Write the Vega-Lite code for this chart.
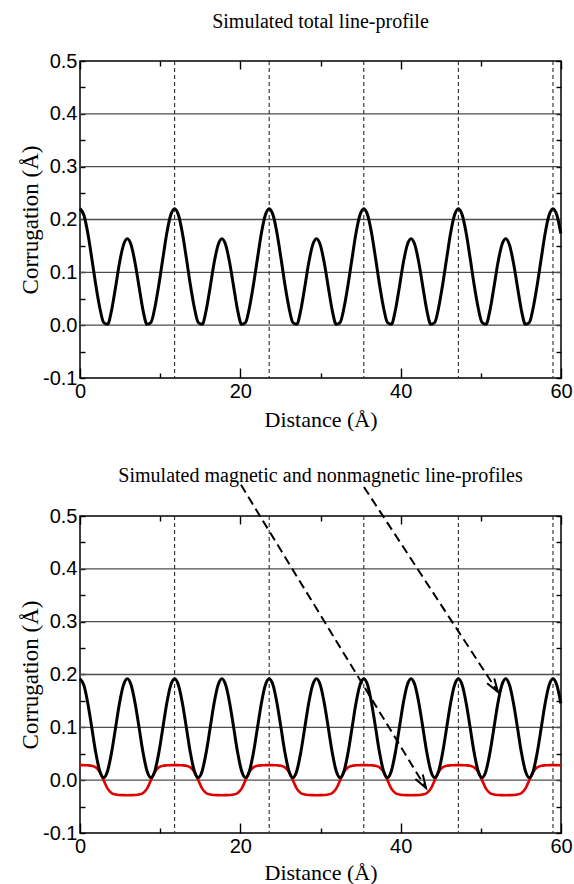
{
  "$schema": "https://vega.github.io/schema/vega-lite/v6.json",
  "background": "white",
  "padding": {"left": 18, "top": 11, "right": 4, "bottom": 0},
  "spacing": 34,
  "config": {
    "view": {"stroke": "black", "strokeWidth": 1.5},
    "title": {"font": "Liberation Serif", "fontSize": 20, "fontWeight": "normal", "color": "black", "baseline": "alphabetic"},
    "axis": {
      "labelFont": "Liberation Sans", "labelFontSize": 20, "labelColor": "black",
      "titleFont": "Liberation Serif", "titleFontWeight": "normal", "titleColor": "black",
      "tickColor": "black", "tickWidth": 1.4, "domain": false, "grid": false
    }
  },
  "datasets": {
    "profile": [
      {"x":0,"total":0.2205,"nonmagnetic":0.192,"magnetic":0.0285},
      {"x":0.49,"total":0.2079,"nonmagnetic":0.1795,"magnetic":0.0284},
      {"x":0.98,"total":0.1734,"nonmagnetic":0.1453,"magnetic":0.0281},
      {"x":1.48,"total":0.1256,"nonmagnetic":0.0985,"magnetic":0.0271},
      {"x":1.97,"total":0.0759,"nonmagnetic":0.0517,"magnetic":0.0242},
      {"x":2.46,"total":0.0335,"nonmagnetic":0.0175,"magnetic":0.016},
      {"x":2.95,"total":0.005,"nonmagnetic":0.005,"magnetic":0},
      {"x":3.44,"total":0.0015,"nonmagnetic":0.0175,"magnetic":-0.016},
      {"x":3.93,"total":0.0275,"nonmagnetic":0.0517,"magnetic":-0.0242},
      {"x":4.43,"total":0.0714,"nonmagnetic":0.0985,"magnetic":-0.0271},
      {"x":4.92,"total":0.1172,"nonmagnetic":0.1453,"magnetic":-0.0281},
      {"x":5.41,"total":0.1511,"nonmagnetic":0.1795,"magnetic":-0.0284},
      {"x":5.9,"total":0.1635,"nonmagnetic":0.192,"magnetic":-0.0285},
      {"x":6.39,"total":0.1511,"nonmagnetic":0.1795,"magnetic":-0.0284},
      {"x":6.88,"total":0.1172,"nonmagnetic":0.1453,"magnetic":-0.0281},
      {"x":7.38,"total":0.0714,"nonmagnetic":0.0985,"magnetic":-0.0271},
      {"x":7.87,"total":0.0275,"nonmagnetic":0.0517,"magnetic":-0.0242},
      {"x":8.36,"total":0.0015,"nonmagnetic":0.0175,"magnetic":-0.016},
      {"x":8.85,"total":0.005,"nonmagnetic":0.005,"magnetic":0},
      {"x":9.34,"total":0.0335,"nonmagnetic":0.0175,"magnetic":0.016},
      {"x":9.83,"total":0.0759,"nonmagnetic":0.0517,"magnetic":0.0242},
      {"x":10.33,"total":0.1256,"nonmagnetic":0.0985,"magnetic":0.0271},
      {"x":10.82,"total":0.1734,"nonmagnetic":0.1453,"magnetic":0.0281},
      {"x":11.31,"total":0.2079,"nonmagnetic":0.1795,"magnetic":0.0284},
      {"x":11.8,"total":0.2205,"nonmagnetic":0.192,"magnetic":0.0285},
      {"x":12.29,"total":0.2079,"nonmagnetic":0.1795,"magnetic":0.0284},
      {"x":12.78,"total":0.1734,"nonmagnetic":0.1453,"magnetic":0.0281},
      {"x":13.28,"total":0.1256,"nonmagnetic":0.0985,"magnetic":0.0271},
      {"x":13.77,"total":0.0759,"nonmagnetic":0.0517,"magnetic":0.0242},
      {"x":14.26,"total":0.0335,"nonmagnetic":0.0175,"magnetic":0.016},
      {"x":14.75,"total":0.005,"nonmagnetic":0.005,"magnetic":0},
      {"x":15.24,"total":0.0015,"nonmagnetic":0.0175,"magnetic":-0.016},
      {"x":15.73,"total":0.0275,"nonmagnetic":0.0517,"magnetic":-0.0242},
      {"x":16.23,"total":0.0714,"nonmagnetic":0.0985,"magnetic":-0.0271},
      {"x":16.72,"total":0.1172,"nonmagnetic":0.1453,"magnetic":-0.0281},
      {"x":17.21,"total":0.1511,"nonmagnetic":0.1795,"magnetic":-0.0284},
      {"x":17.7,"total":0.1635,"nonmagnetic":0.192,"magnetic":-0.0285},
      {"x":18.19,"total":0.1511,"nonmagnetic":0.1795,"magnetic":-0.0284},
      {"x":18.68,"total":0.1172,"nonmagnetic":0.1453,"magnetic":-0.0281},
      {"x":19.18,"total":0.0714,"nonmagnetic":0.0985,"magnetic":-0.0271},
      {"x":19.67,"total":0.0275,"nonmagnetic":0.0517,"magnetic":-0.0242},
      {"x":20.16,"total":0.0015,"nonmagnetic":0.0175,"magnetic":-0.016},
      {"x":20.65,"total":0.005,"nonmagnetic":0.005,"magnetic":0},
      {"x":21.14,"total":0.0335,"nonmagnetic":0.0175,"magnetic":0.016},
      {"x":21.63,"total":0.0759,"nonmagnetic":0.0517,"magnetic":0.0242},
      {"x":22.13,"total":0.1256,"nonmagnetic":0.0985,"magnetic":0.0271},
      {"x":22.62,"total":0.1734,"nonmagnetic":0.1453,"magnetic":0.0281},
      {"x":23.11,"total":0.2079,"nonmagnetic":0.1795,"magnetic":0.0284},
      {"x":23.6,"total":0.2205,"nonmagnetic":0.192,"magnetic":0.0285},
      {"x":24.09,"total":0.2079,"nonmagnetic":0.1795,"magnetic":0.0284},
      {"x":24.58,"total":0.1734,"nonmagnetic":0.1453,"magnetic":0.0281},
      {"x":25.08,"total":0.1256,"nonmagnetic":0.0985,"magnetic":0.0271},
      {"x":25.57,"total":0.0759,"nonmagnetic":0.0517,"magnetic":0.0242},
      {"x":26.06,"total":0.0335,"nonmagnetic":0.0175,"magnetic":0.016},
      {"x":26.55,"total":0.005,"nonmagnetic":0.005,"magnetic":0},
      {"x":27.04,"total":0.0015,"nonmagnetic":0.0175,"magnetic":-0.016},
      {"x":27.53,"total":0.0275,"nonmagnetic":0.0517,"magnetic":-0.0242},
      {"x":28.03,"total":0.0714,"nonmagnetic":0.0985,"magnetic":-0.0271},
      {"x":28.52,"total":0.1172,"nonmagnetic":0.1453,"magnetic":-0.0281},
      {"x":29.01,"total":0.1511,"nonmagnetic":0.1795,"magnetic":-0.0284},
      {"x":29.5,"total":0.1635,"nonmagnetic":0.192,"magnetic":-0.0285},
      {"x":29.99,"total":0.1511,"nonmagnetic":0.1795,"magnetic":-0.0284},
      {"x":30.48,"total":0.1172,"nonmagnetic":0.1453,"magnetic":-0.0281},
      {"x":30.98,"total":0.0714,"nonmagnetic":0.0985,"magnetic":-0.0271},
      {"x":31.47,"total":0.0275,"nonmagnetic":0.0517,"magnetic":-0.0242},
      {"x":31.96,"total":0.0015,"nonmagnetic":0.0175,"magnetic":-0.016},
      {"x":32.45,"total":0.005,"nonmagnetic":0.005,"magnetic":0},
      {"x":32.94,"total":0.0335,"nonmagnetic":0.0175,"magnetic":0.016},
      {"x":33.43,"total":0.0759,"nonmagnetic":0.0517,"magnetic":0.0242},
      {"x":33.93,"total":0.1256,"nonmagnetic":0.0985,"magnetic":0.0271},
      {"x":34.42,"total":0.1734,"nonmagnetic":0.1453,"magnetic":0.0281},
      {"x":34.91,"total":0.2079,"nonmagnetic":0.1795,"magnetic":0.0284},
      {"x":35.4,"total":0.2205,"nonmagnetic":0.192,"magnetic":0.0285},
      {"x":35.89,"total":0.2079,"nonmagnetic":0.1795,"magnetic":0.0284},
      {"x":36.38,"total":0.1734,"nonmagnetic":0.1453,"magnetic":0.0281},
      {"x":36.88,"total":0.1256,"nonmagnetic":0.0985,"magnetic":0.0271},
      {"x":37.37,"total":0.0759,"nonmagnetic":0.0517,"magnetic":0.0242},
      {"x":37.86,"total":0.0335,"nonmagnetic":0.0175,"magnetic":0.016},
      {"x":38.35,"total":0.005,"nonmagnetic":0.005,"magnetic":0},
      {"x":38.84,"total":0.0015,"nonmagnetic":0.0175,"magnetic":-0.016},
      {"x":39.33,"total":0.0275,"nonmagnetic":0.0517,"magnetic":-0.0242},
      {"x":39.83,"total":0.0714,"nonmagnetic":0.0985,"magnetic":-0.0271},
      {"x":40.32,"total":0.1172,"nonmagnetic":0.1453,"magnetic":-0.0281},
      {"x":40.81,"total":0.1511,"nonmagnetic":0.1795,"magnetic":-0.0284},
      {"x":41.3,"total":0.1635,"nonmagnetic":0.192,"magnetic":-0.0285},
      {"x":41.79,"total":0.1511,"nonmagnetic":0.1795,"magnetic":-0.0284},
      {"x":42.28,"total":0.1172,"nonmagnetic":0.1453,"magnetic":-0.0281},
      {"x":42.78,"total":0.0714,"nonmagnetic":0.0985,"magnetic":-0.0271},
      {"x":43.27,"total":0.0275,"nonmagnetic":0.0517,"magnetic":-0.0242},
      {"x":43.76,"total":0.0015,"nonmagnetic":0.0175,"magnetic":-0.016},
      {"x":44.25,"total":0.005,"nonmagnetic":0.005,"magnetic":0},
      {"x":44.74,"total":0.0335,"nonmagnetic":0.0175,"magnetic":0.016},
      {"x":45.23,"total":0.0759,"nonmagnetic":0.0517,"magnetic":0.0242},
      {"x":45.73,"total":0.1256,"nonmagnetic":0.0985,"magnetic":0.0271},
      {"x":46.22,"total":0.1734,"nonmagnetic":0.1453,"magnetic":0.0281},
      {"x":46.71,"total":0.2079,"nonmagnetic":0.1795,"magnetic":0.0284},
      {"x":47.2,"total":0.2205,"nonmagnetic":0.192,"magnetic":0.0285},
      {"x":47.69,"total":0.2079,"nonmagnetic":0.1795,"magnetic":0.0284},
      {"x":48.18,"total":0.1734,"nonmagnetic":0.1453,"magnetic":0.0281},
      {"x":48.68,"total":0.1256,"nonmagnetic":0.0985,"magnetic":0.0271},
      {"x":49.17,"total":0.0759,"nonmagnetic":0.0517,"magnetic":0.0242},
      {"x":49.66,"total":0.0335,"nonmagnetic":0.0175,"magnetic":0.016},
      {"x":50.15,"total":0.005,"nonmagnetic":0.005,"magnetic":0},
      {"x":50.64,"total":0.0015,"nonmagnetic":0.0175,"magnetic":-0.016},
      {"x":51.13,"total":0.0275,"nonmagnetic":0.0517,"magnetic":-0.0242},
      {"x":51.63,"total":0.0714,"nonmagnetic":0.0985,"magnetic":-0.0271},
      {"x":52.12,"total":0.1172,"nonmagnetic":0.1453,"magnetic":-0.0281},
      {"x":52.61,"total":0.1511,"nonmagnetic":0.1795,"magnetic":-0.0284},
      {"x":53.1,"total":0.1635,"nonmagnetic":0.192,"magnetic":-0.0285},
      {"x":53.59,"total":0.1511,"nonmagnetic":0.1795,"magnetic":-0.0284},
      {"x":54.08,"total":0.1172,"nonmagnetic":0.1453,"magnetic":-0.0281},
      {"x":54.58,"total":0.0714,"nonmagnetic":0.0985,"magnetic":-0.0271},
      {"x":55.07,"total":0.0275,"nonmagnetic":0.0517,"magnetic":-0.0242},
      {"x":55.56,"total":0.0015,"nonmagnetic":0.0175,"magnetic":-0.016},
      {"x":56.05,"total":0.005,"nonmagnetic":0.005,"magnetic":0},
      {"x":56.54,"total":0.0335,"nonmagnetic":0.0175,"magnetic":0.016},
      {"x":57.03,"total":0.0759,"nonmagnetic":0.0517,"magnetic":0.0242},
      {"x":57.53,"total":0.1256,"nonmagnetic":0.0985,"magnetic":0.0271},
      {"x":58.02,"total":0.1734,"nonmagnetic":0.1453,"magnetic":0.0281},
      {"x":58.51,"total":0.2079,"nonmagnetic":0.1795,"magnetic":0.0284},
      {"x":59.0,"total":0.2205,"nonmagnetic":0.192,"magnetic":0.0285},
      {"x":59.49,"total":0.2079,"nonmagnetic":0.1795,"magnetic":0.0284},
      {"x":59.98,"total":0.1734,"nonmagnetic":0.1453,"magnetic":0.0281}
    ],
    "cells": [{"x": 11.8}, {"x": 23.6}, {"x": 35.4}, {"x": 47.2}, {"x": 59.0}],
    "levels": [{"y": 0}, {"y": 0.1}, {"y": 0.2}, {"y": 0.3}, {"y": 0.4}],
    "pointers": [
      {"arrow": "a", "part": "shaft", "step": 1, "x": 20.08, "y": 0.559},
      {"arrow": "a", "part": "shaft", "step": 2, "x": 43.16, "y": -0.015},
      {"arrow": "b", "part": "shaft", "step": 1, "x": 35.42, "y": 0.555},
      {"arrow": "b", "part": "shaft", "step": 2, "x": 52.14, "y": 0.167},
      {"arrow": "a", "part": "head", "step": 1, "x": 42.76, "y": 0.0106},
      {"arrow": "a", "part": "head", "step": 2, "x": 43.16, "y": -0.015},
      {"arrow": "a", "part": "head", "step": 3, "x": 41.84, "y": 0.0021},
      {"arrow": "b", "part": "head", "step": 1, "x": 51.68, "y": 0.1924},
      {"arrow": "b", "part": "head", "step": 2, "x": 52.14, "y": 0.167},
      {"arrow": "b", "part": "head", "step": 3, "x": 50.78, "y": 0.1835}
    ]
  },
  "vconcat": [
    {
      "width": 481,
      "height": 317,
      "title": {"text": "Simulated total line-profile", "offset": 19},
      "resolve": {"scale": {"x": "independent", "y": "independent"}, "axis": {"x": "independent", "y": "independent"}},
      "layer": [
        {
          "data": {"name": "levels"},
          "mark": {"type": "rule", "color": "#4d4d4d", "strokeWidth": 1.3},
          "encoding": {
            "y": {"field": "y", "type": "quantitative", "scale": {"domain": [-0.1, 0.5], "nice": false, "zero": false},
              "axis": {"orient": "right", "values": [-0.1, -0.05, 0, 0.05, 0.1, 0.15, 0.2, 0.25, 0.3, 0.35, 0.4, 0.45, 0.5], "tickSize": -5, "labels": false, "title": null}}
          }
        },
        {
          "data": {"name": "cells"},
          "mark": {"type": "rule", "color": "#2b2b2b", "strokeWidth": 1.1, "strokeDash": [4, 3]},
          "encoding": {
            "x": {"field": "x", "type": "quantitative", "scale": {"domain": [0, 60], "nice": false, "zero": false},
              "axis": {"orient": "top", "values": [0, 10, 20, 30, 40, 50, 60], "tickSize": -8, "labels": false, "title": null,
                "tickDash": {"condition": {"test": "datum.value % 20 !== 0", "value": [5, 40]}, "value": []}}}
          }
        },
        {
          "data": {"name": "profile"},
          "mark": {"type": "line", "color": "black", "strokeWidth": 3, "interpolate": "monotone"},
          "encoding": {
            "x": {"field": "x", "type": "quantitative", "scale": {"domain": [0, 60], "nice": false, "zero": false},
              "axis": {"orient": "bottom", "values": [0, 10, 20, 30, 40, 50, 60], "tickSize": -10, "labelPadding": 13, "labelFlush": false,
                "labelExpr": "datum.value % 20 === 0 ? datum.label : ''",
                "tickDash": {"condition": {"test": "datum.value % 20 !== 0", "value": [5, 40]}, "value": []},
                "title": "Distance (Å)", "titleFontSize": 22, "titlePadding": 8}},
            "y": {"field": "total", "type": "quantitative", "scale": {"domain": [-0.1, 0.5], "nice": false, "zero": false},
              "axis": {"orient": "left", "values": [-0.1, -0.05, 0, 0.05, 0.1, 0.15, 0.2, 0.25, 0.3, 0.35, 0.4, 0.45, 0.5], "format": ".1f",
                "labelExpr": "abs(datum.value * 10 - round(datum.value * 10)) < 0.001 ? replace(datum.label, '\u2212', '-') : ''",
                "tickSize": -5, "labelPadding": 8, "title": "Corrugation (Å)", "titleFontSize": 23, "titlePadding": 0}}
          }
        }
      ]
    },
    {
      "width": 481,
      "height": 317,
      "title": {"text": "Simulated magnetic and nonmagnetic line-profiles", "offset": -5},
      "resolve": {"scale": {"x": "independent", "y": "independent"}, "axis": {"x": "independent", "y": "independent"}},
      "layer": [
        {
          "data": {"name": "levels"},
          "mark": {"type": "rule", "color": "#4d4d4d", "strokeWidth": 1.3},
          "encoding": {
            "y": {"field": "y", "type": "quantitative", "scale": {"domain": [-0.1, 0.5], "nice": false, "zero": false},
              "axis": {"orient": "right", "values": [-0.1, -0.05, 0, 0.05, 0.1, 0.15, 0.2, 0.25, 0.3, 0.35, 0.4, 0.45, 0.5], "tickSize": -5, "labels": false, "title": null}}
          }
        },
        {
          "data": {"name": "cells"},
          "mark": {"type": "rule", "color": "#2b2b2b", "strokeWidth": 1.1, "strokeDash": [4, 3]},
          "encoding": {
            "x": {"field": "x", "type": "quantitative", "scale": {"domain": [0, 60], "nice": false, "zero": false},
              "axis": {"orient": "top", "values": [0, 10, 20, 30, 40, 50, 60], "tickSize": -8, "labels": false, "title": null,
                "tickDash": {"condition": {"test": "datum.value % 20 !== 0", "value": [5, 40]}, "value": []}}}
          }
        },
        {
          "data": {"name": "profile"},
          "mark": {"type": "line", "color": "#e00000", "strokeWidth": 2.6, "interpolate": "monotone"},
          "encoding": {
            "x": {"field": "x", "type": "quantitative", "scale": {"domain": [0, 60], "nice": false, "zero": false}, "axis": null},
            "y": {"field": "magnetic", "type": "quantitative", "scale": {"domain": [-0.1, 0.5], "nice": false, "zero": false}, "axis": null}
          }
        },
        {
          "data": {"name": "pointers"},
          "transform": [{"filter": "datum.part === 'shaft'"}],
          "mark": {"type": "line", "color": "black", "strokeWidth": 2, "strokeDash": [9, 5]},
          "encoding": {
            "x": {"field": "x", "type": "quantitative", "scale": {"domain": [0, 60], "nice": false, "zero": false}, "axis": null},
            "y": {"field": "y", "type": "quantitative", "scale": {"domain": [-0.1, 0.5], "nice": false, "zero": false}, "axis": null},
            "detail": {"field": "arrow"},
            "order": {"field": "step"}
          }
        },
        {
          "data": {"name": "pointers"},
          "transform": [{"filter": "datum.part === 'head'"}],
          "mark": {"type": "line", "color": "black", "strokeWidth": 2},
          "encoding": {
            "x": {"field": "x", "type": "quantitative", "scale": {"domain": [0, 60], "nice": false, "zero": false}, "axis": null},
            "y": {"field": "y", "type": "quantitative", "scale": {"domain": [-0.1, 0.5], "nice": false, "zero": false}, "axis": null},
            "detail": {"field": "arrow"},
            "order": {"field": "step"}
          }
        },
        {
          "data": {"name": "profile"},
          "mark": {"type": "line", "color": "black", "strokeWidth": 3, "interpolate": "monotone"},
          "encoding": {
            "x": {"field": "x", "type": "quantitative", "scale": {"domain": [0, 60], "nice": false, "zero": false},
              "axis": {"orient": "bottom", "values": [0, 10, 20, 30, 40, 50, 60], "tickSize": -10, "labelPadding": 13, "labelFlush": false,
                "labelExpr": "datum.value % 20 === 0 ? datum.label : ''",
                "tickDash": {"condition": {"test": "datum.value % 20 !== 0", "value": [5, 40]}, "value": []},
                "title": "Distance (Å)", "titleFontSize": 22, "titlePadding": 6}},
            "y": {"field": "nonmagnetic", "type": "quantitative", "scale": {"domain": [-0.1, 0.5], "nice": false, "zero": false},
              "axis": {"orient": "left", "values": [-0.1, -0.05, 0, 0.05, 0.1, 0.15, 0.2, 0.25, 0.3, 0.35, 0.4, 0.45, 0.5], "format": ".1f",
                "labelExpr": "abs(datum.value * 10 - round(datum.value * 10)) < 0.001 ? replace(datum.label, '\u2212', '-') : ''",
                "tickSize": -5, "labelPadding": 8, "title": "Corrugation (Å)", "titleFontSize": 23, "titlePadding": 0}}
          }
        }
      ]
    }
  ]
}
